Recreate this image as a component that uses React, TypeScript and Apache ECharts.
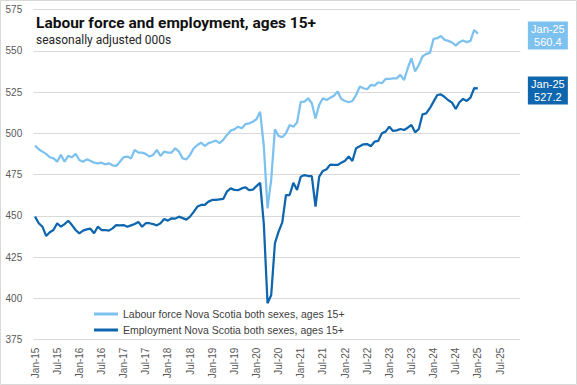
import React, { useEffect, useRef } from "react";
import * as echarts from "echarts";

const MONTHS = ["Jan", "Feb", "Mar", "Apr", "May", "Jun", "Jul", "Aug", "Sep", "Oct", "Nov", "Dec"];
const YEARS = ["15", "16", "17", "18", "19", "20", "21", "22", "23", "24", "25"];
const categories: string[] = [];
YEARS.forEach((y) => MONTHS.forEach((m) => categories.push(`${m}-${y}`)));

const labourForce = [
  492.5, 490.3, 488.9, 487.5, 485.5, 484.8, 482.8, 486.9, 482.8, 486.3, 485.5, 487.5,
  483.8, 482.8, 484.2, 483.4, 482.2, 481.8, 482.2, 481.2, 481.8, 480.6, 480.2, 482.8,
  485.5, 485.9, 484.8, 489.9, 488.3, 488.3, 487.5, 485.9, 486.9, 489.9, 486.3, 488.9,
  488.3, 488.3, 490.9, 488.9, 484.8, 484.2, 486.9, 490.9, 492.9, 494.3, 492.3, 494.0,
  494.7, 495.6, 494.0, 496.0, 499.0, 501.6, 502.4, 504.0, 503.0, 505.5, 506.0, 507.0,
  508.5, 513.0, 492.0, 454.5, 472.0, 502.4, 498.4, 497.6, 500.0, 505.0, 504.0, 506.5,
  519.0, 519.2, 521.2, 518.2, 509.0, 517.2, 521.2, 520.2, 521.5, 522.8, 525.3, 520.8,
  519.6, 518.8, 519.6, 523.2, 528.3, 527.3, 526.7, 529.3, 528.9, 530.9, 530.3, 532.9,
  532.9, 533.3, 533.3, 535.4, 532.3, 539.4, 545.5, 537.4, 541.4, 546.5, 548.1, 548.7,
  557.2, 557.6, 559.0, 556.6, 556.0, 555.0, 553.1, 555.2, 556.2, 555.2, 556.0, 562.6,
  560.4,
];

const employment = [
  449.5, 445.5, 443.4, 437.8, 440.0, 441.4, 445.5, 443.4, 445.0, 447.0, 444.4, 441.4,
  439.4, 441.0, 441.8, 442.2, 439.4, 443.4, 441.4, 441.4, 441.0, 442.4, 444.4, 444.2,
  444.4, 443.4, 444.2, 445.0, 446.3, 443.4, 445.5, 445.5, 445.0, 444.2, 445.5, 448.1,
  447.1, 448.5, 448.3, 449.5, 448.6, 447.7, 449.5, 452.4, 455.6, 456.6, 456.6, 458.6,
  459.6, 459.6, 460.0, 460.2, 464.7, 466.6, 465.7, 465.5, 466.6, 467.3, 465.6, 465.8,
  468.0, 470.0, 445.0, 397.0, 402.0, 433.3, 440.4, 446.0, 462.6, 462.6, 470.0, 465.7,
  473.7, 474.7, 474.1, 474.1, 455.6, 473.7, 477.2, 478.2, 481.0, 480.8, 480.8, 482.2,
  483.4, 485.9, 483.2, 490.9, 492.1, 493.3, 493.5, 492.1, 494.9, 495.4, 500.0, 501.0,
  504.0, 501.4, 501.8, 502.6, 502.0, 503.4, 505.0, 500.6, 502.6, 511.5, 512.1, 515.2,
  519.2, 523.2, 523.6, 522.0, 520.0, 518.6, 514.7, 518.8, 520.8, 519.6, 521.6, 527.3,
  527.2,
];

const SERIES_NAMES = [
  "Labour force Nova Scotia both sexes, ages 15+",
  "Employment Nova Scotia both sexes, ages 15+",
];
const TITLE = "Labour force and employment, ages 15+";
const SUBTITLE = "seasonally adjusted 000s";

const LIGHT = "#7DC1EF";
const DARK = "#0E66AE";
const AXIS_FONT = "'Liberation Sans', Arial, sans-serif";

function endLabel(bg: string) {
  return {
    show: true,
    distance: 50,
    offset: [0, 2],
    backgroundColor: bg,
    padding: [1, 2],
    formatter: (p: any) =>
      `{a|${categories[p.dataIndex]}}\n{a|${Number(p.value).toFixed(1)}}`,
    rich: {
      a: {
        width: 36,
        align: "center",
        color: "#ffffff",
        fontSize: 11,
        lineHeight: 13,
        fontFamily: AXIS_FONT,
      },
    },
  };
}

export default function App() {
  const ref = useRef<HTMLDivElement>(null);
  useEffect(() => {
    if (!ref.current) return;
    const chart = echarts.init(ref.current, null, { renderer: "svg" });
    chart.setOption({
      animation: false,
      backgroundColor: "#ffffff",
      title: {
        text: TITLE,
        subtext: SUBTITLE,
        left: 31,
        top: 10,
        itemGap: 3,
        textStyle: {
          fontFamily: "Roboto, sans-serif",
          fontWeight: "bold",
          fontSize: 15.5,
          color: "#111111",
        },
        subtextStyle: {
          fontFamily: "Roboto, sans-serif",
          fontSize: 12,
          color: "#262626",
        },
      },
      legend: {
        orient: "vertical",
        left: 89,
        top: 303,
        itemWidth: 24,
        itemHeight: 3,
        itemGap: 4,
        icon: "rect",
        data: SERIES_NAMES,
        textStyle: {
          fontFamily: AXIS_FONT,
          fontSize: 10.5,
          lineHeight: 12,
          color: "#404040",
        },
      },
      grid: { left: 33.2, right: 56.7, top: 9.5, bottom: 45.4, containLabel: false },
      xAxis: {
        type: "category",
        data: categories,
        boundaryGap: true,
        axisLine: { show: false },
        axisTick: { show: false },
        splitLine: { show: false },
        axisLabel: {
          interval: 5,
          rotate: 90,
          margin: 8,
          fontFamily: AXIS_FONT,
          fontSize: 10,
          color: "#595959",
        },
      },
      yAxis: {
        type: "value",
        min: 375,
        max: 575,
        interval: 25,
        axisLine: { show: false },
        axisTick: { show: false },
        splitLine: { lineStyle: { color: "#d9d9d9", width: 1 } },
        axisLabel: {
          margin: 11,
          fontFamily: AXIS_FONT,
          fontSize: 10,
          color: "#595959",
        },
      },
      series: [
        {
          name: SERIES_NAMES[0],
          type: "line",
          data: labourForce,
          symbol: "none",
          color: LIGHT,
          lineStyle: { width: 2.25, color: LIGHT },
          endLabel: endLabel(LIGHT),
        },
        {
          name: SERIES_NAMES[1],
          type: "line",
          data: employment,
          symbol: "none",
          color: DARK,
          lineStyle: { width: 2.25, color: DARK },
          endLabel: endLabel(DARK),
        },
      ],
      graphic: [
        {
          type: "rect",
          silent: true,
          shape: { x: 0.5, y: 0.5, width: 576, height: 384 },
          style: { fill: "none", stroke: "#d9d9d9", lineWidth: 1 },
        },
      ],
    });
    return () => chart.dispose();
  }, []);
  return (
    <div
      ref={ref}
      style={{ position: "fixed", left: 0, top: 0, width: 577, height: 385, background: "#fff" }}
    />
  );
}
